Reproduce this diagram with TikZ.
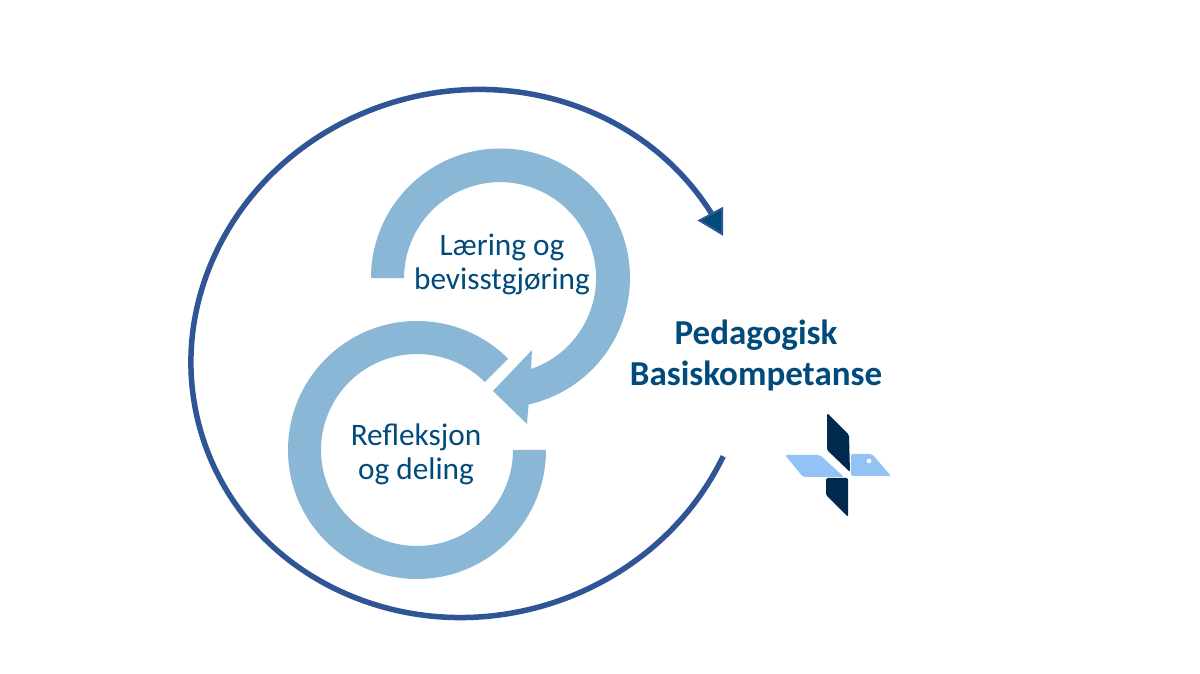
\documentclass[tikz,border=0pt]{standalone}
\usepackage{fontspec}
\setmainfont{Carlito}
\definecolor{ringblue}{HTML}{89B7D5}
\definecolor{arcblue}{HTML}{2F5597}
\definecolor{headblue}{HTML}{004B7C}
\definecolor{txtblue}{HTML}{004A7C}
\definecolor{logodark}{HTML}{00294D}
\definecolor{logolight}{HTML}{93C3F5}
\tikzset{
 ringshape/.style={fill=ringblue,draw=none},
 bigarc/.style={draw=arcblue,line width=5.5pt},
 lbl/.style={text=txtblue,font=\fontsize{31.3}{36}\selectfont,align=center,inner sep=0pt},
 lblb/.style={text=txtblue,font=\bfseries\fontsize{35}{40}\selectfont,align=center,inner sep=0pt},
 ldark/.style={fill=logodark,draw=none,rounded corners=1.5pt},
 llight/.style={fill=logolight,draw=none,rounded corners=2pt},
}
\begin{document}
\begin{tikzpicture}[x=1pt,y=1pt]
\useasboundingbox[fill=white] (0,0) rectangle (1200,674);
% big arc
\begin{scope}[shift={(470,320.5)},rotate=15.7]
\draw[bigarc] ({280.3*cos(-39.6)},{262.7*sin(-39.6)}) arc[start angle=-39.6,end angle=-345,x radius=280.3,y radius=262.7];
\end{scope}
\fill[headblue,draw=arcblue,line width=2pt,line join=miter] (722,465.5) -- (699.5,453.5) -- (722,440) -- cycle;
% ring 1
\fill[ringshape] (371,396) arc[start angle=180,end angle=-77.5,radius=129.5] -- (527,250) -- (493,283) -- (532,324) -- (531,305) arc[start angle=-71.2,end angle=180,radius=96] -- cycle;
% ring 2
\fill[ringshape] (546,224) arc[start angle=0,end angle=-315,radius=129] -- (484.88,291.88) arc[start angle=45,end angle=360,radius=96] -- cycle;
% labels
\node[lbl] (laering) at (502,427) {Læring og};
\node[lbl] (bevisst) at (502,393) {bevisstgjøring};
\node[lbl] (refl) at (416,237) {Refleksjon};
\node[lbl] (deling) at (416,203) {og deling};
\node[lblb] (ped) at (756,339) {Pedagogisk};
\node[lblb] (bas) at (756,298) {Basiskompetanse};
% logo
\fill[ldark] (827,261) -- (849,239) -- (850,202) -- (827,224) -- cycle;
\fill[ldark] (826,196) -- (848,196) -- (848,157) -- (826,179) -- cycle;
\fill[llight] (785,219) -- (820,219) -- (844,197) -- (803,197) -- cycle;
\fill[llight] (851,220) -- (872,220) -- (891,198) -- (851,198) -- cycle;
\fill[white] (869,213) circle (2.3);
\end{tikzpicture}
\end{document}
